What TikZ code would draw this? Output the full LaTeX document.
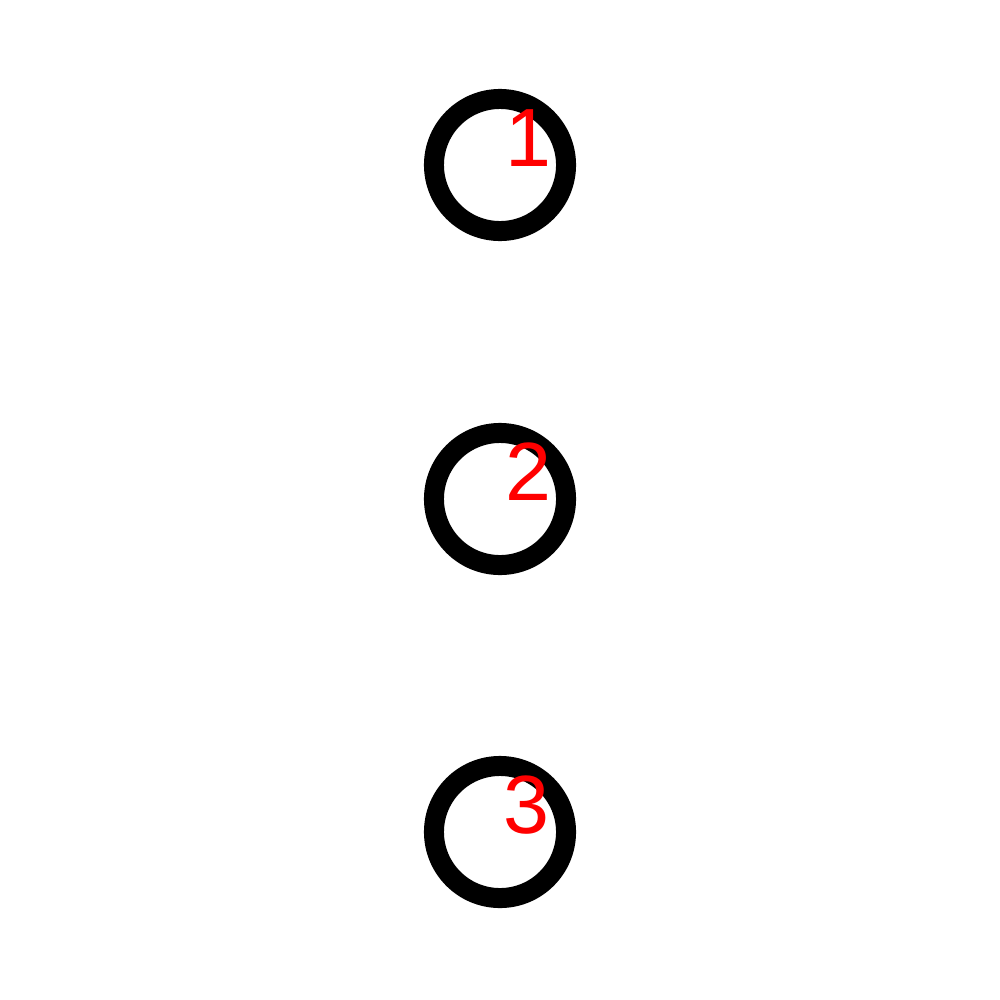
\documentclass[tikz,border=0pt]{standalone}
\usepackage{fontspec}
\setmainfont{Liberation Sans}
\begin{document}
\begin{tikzpicture}[x=0.01cm,y=-0.01cm,
  ring/.style={circle,draw=black,line width=20*0.2845pt,minimum size=1.32cm,inner sep=0pt},
  lbl/.style={text=red,font=\fontsize{23.5}{28}\selectfont,inner sep=0pt,anchor=center}]
\useasboundingbox[fill=white] (0,0) rectangle (1000,1000);
\node[ring] (c1) at (500,165) {};
\node[ring] (c2) at (500,499) {};
\node[ring] (c3) at (500,832) {};
\node[lbl] (l1) at (528,138) {1};
\node[lbl] (l2) at (528,472) {2};
\node[lbl] (l3) at (526,805) {3};
\end{tikzpicture}
\end{document}
